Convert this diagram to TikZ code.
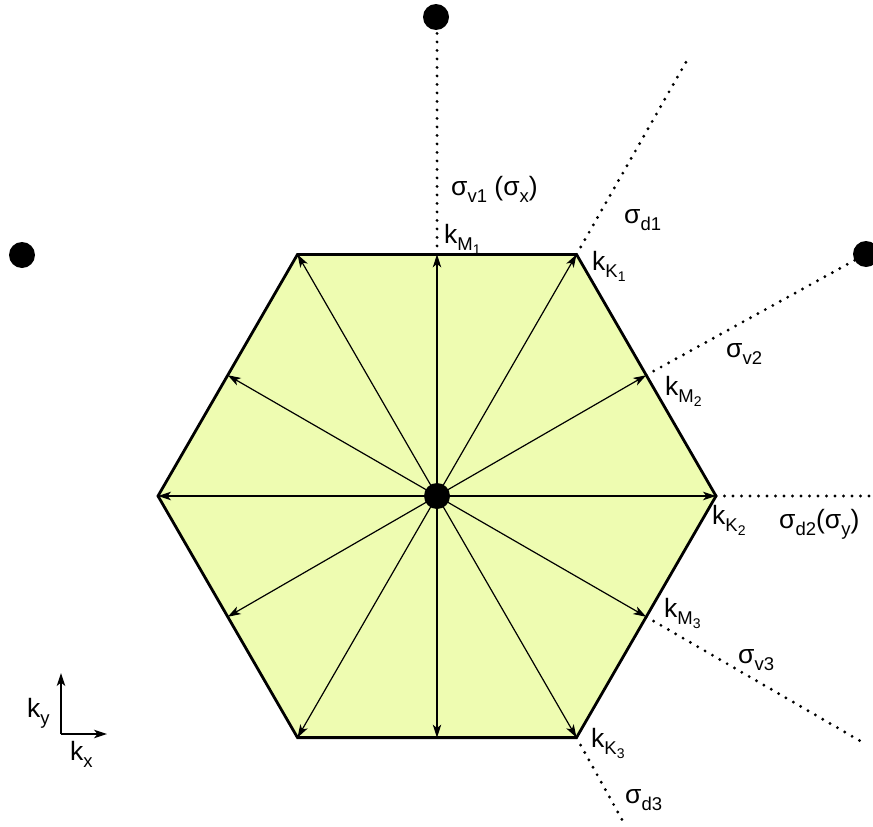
\documentclass[tikz,border=0pt]{standalone}
\usepackage{fontspec}
\setmainfont{Liberation Sans}
\usetikzlibrary{arrows.meta}
\definecolor{hexfill}{RGB}{238,252,177}
\newcommand{\mysub}[1]{\raisebox{-0.28em}{\fontsize{18.5}{18.5}\selectfont #1}}
\newcommand{\mysubsub}[1]{\raisebox{-0.22em}{\fontsize{14}{14}\selectfont #1}}
\begin{document}
\begin{tikzpicture}[x=1pt,y=-1pt,
  lbl/.style={anchor=base west,inner sep=0pt,font=\fontsize{26.5}{30}\selectfont},
  ray/.style={line width=1.2pt,-{Stealth[length=13pt,width=8.5pt,inset=3.5pt]}},
  mirror/.style={line width=3.2pt,dash pattern=on 0pt off 8.5pt,line cap=round},
  dot/.style={circle,fill=black,inner sep=0pt,minimum size=26pt}]
\useasboundingbox (0,0) rectangle (873,827);
% vertices
\coordinate (K2) at (716,496);
\coordinate (K1) at (576.5,254.4);
\coordinate (KL1) at (297.5,254.4);
\coordinate (KL2) at (158,496);
\coordinate (KL3) at (297.5,737.6);
\coordinate (K3) at (576.5,737.6);
% edge midpoints
\coordinate (M1) at (437,254.4);
\coordinate (M2) at (646.25,375.2);
\coordinate (M3) at (646.25,616.8);
\coordinate (ML1) at (227.75,375.2);
\coordinate (ML2) at (227.75,616.8);
\coordinate (ML3) at (437,737.6);
\coordinate (C) at (437,496);
% mirror lines
\coordinate (eM1) at (437,30);
\coordinate (eK1) at (690,55);
\coordinate (eM2) at (866,254);
\coordinate (eK2) at (873,496);
\coordinate (eM3) at (862,742);
\coordinate (eK3) at (625,825);
\draw[mirror] (M1) -- (eM1);
\draw[mirror] (K1) -- (eK1);
\draw[mirror] (M2) -- (eM2);
\draw[mirror] (K2) -- (eK2);
\draw[mirror] (M3) -- (eM3);
\draw[mirror] (K3) -- (eK3);
% hexagon
\draw[line width=2.8pt,fill=hexfill,line join=miter] (K2) -- (K1) -- (KL1) -- (KL2) -- (KL3) -- (K3) -- cycle;
% rays
\foreach \p in {K1,K2,K3,KL1,KL2,KL3,M1,M2,M3,ML1,ML2,ML3}
  \draw[ray] (C) -- (\p);
% dots
\node[dot] (c) at (437,496) {};
\node[dot] (t) at (436,17) {};
\node[dot] (l) at (22,255) {};
\node[dot] (r) at (866,254) {};
% labels
\node[lbl] (sv1) at (451,195) {σ\mysub{v1} (σ\mysub{x})};
\node[lbl] (sd1) at (624,223) {σ\mysub{d1}};
\node[lbl] (kM1) at (444,243) {k\mysub{M\mysubsub{1}}};
\node[lbl] (kK1) at (592,270) {k\mysub{K\mysubsub{1}}};
\node[lbl] (sv2) at (726,357) {σ\mysub{v2}};
\node[lbl] (kM2) at (665,395) {k\mysub{M\mysubsub{2}}};
\node[lbl] (kK2) at (712,524) {k\mysub{K\mysubsub{2}}};
\node[lbl] (sd2) at (779,528) {σ\mysub{d2}(σ\mysub{y})};
\node[lbl] (kM3) at (664,617) {k\mysub{M\mysubsub{3}}};
\node[lbl] (sv3) at (738,663) {σ\mysub{v3}};
\node[lbl] (kK3) at (591,747) {k\mysub{K\mysubsub{3}}};
\node[lbl] (sd3) at (625,803) {σ\mysub{d3}};
% axes
\coordinate (O) at (61,734);
\coordinate (Y) at (61,673);
\coordinate (X) at (107,734);
\draw[ray] (O) -- (Y);
\draw[ray] (O) -- (X);
\node[lbl] (ky) at (27,717) {k\mysub{y}};
\node[lbl] (kx) at (70,760) {k\mysub{x}};
\end{tikzpicture}
\end{document}
